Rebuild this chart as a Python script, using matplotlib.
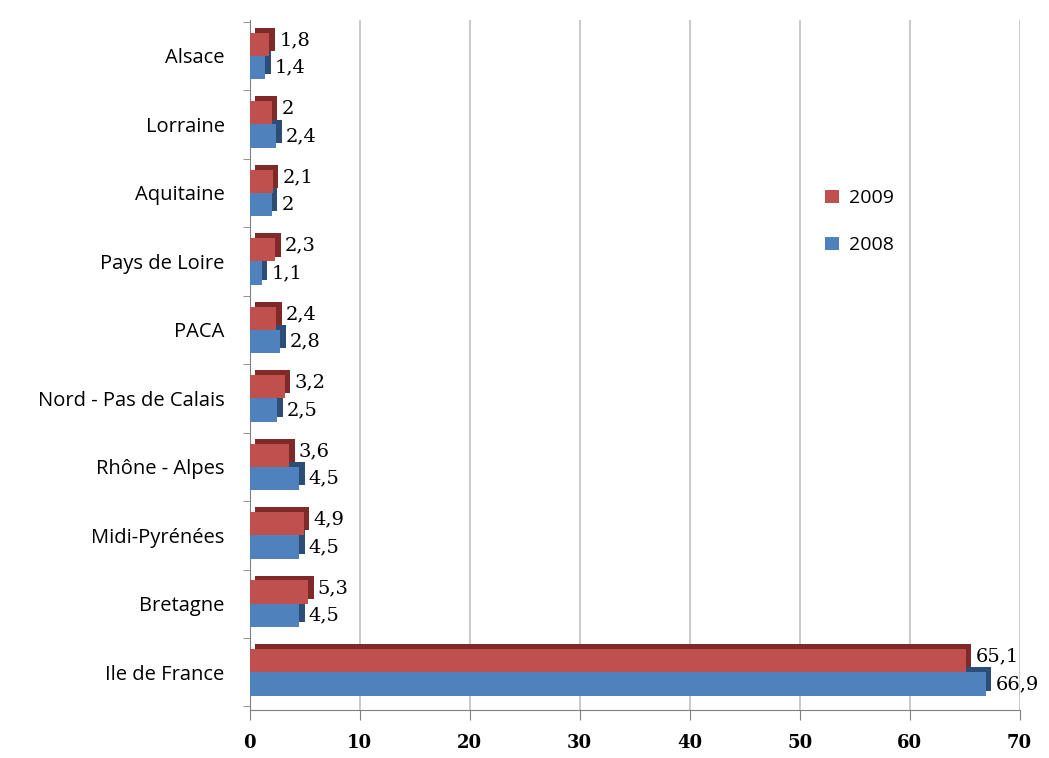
import matplotlib.pyplot as plt
import numpy as np
from matplotlib.transforms import ScaledTranslation

# Données (de bas en haut)
regions = ["Ile de France", "Bretagne", "Midi-Pyrénées", "Rhône - Alpes",
           "Nord - Pas de Calais", "PACA", "Pays de Loire", "Aquitaine",
           "Lorraine", "Alsace"]
v2009 = [65.1, 5.3, 4.9, 3.6, 3.2, 2.4, 2.3, 2.1, 2, 1.8]
v2008 = [66.9, 4.5, 4.5, 4.5, 2.5, 2.8, 1.1, 2, 2.4, 1.4]
xticks = [0, 10, 20, 30, 40, 50, 60, 70]

red, red_dark = "#c0504d", "#7f2a28"
blue, blue_dark = "#4f81bd", "#2c4d75"

fig = plt.figure(figsize=(10.49, 7.58), dpi=100)
ax = fig.add_axes([0.238, 0.063, 0.734, 0.911])

y = np.arange(len(regions))
h = 0.34
depth = ScaledTranslation(4 / 72, 3.5 / 72, fig.dpi_scale_trans)

# faces arrière (effet 3D)
ax.barh(y + h / 2, v2009, height=h, color=red_dark, transform=ax.transData + depth, zorder=2)
ax.barh(y - h / 2, v2008, height=h, color=blue_dark, transform=ax.transData + depth, zorder=2)
ax.barh(y + h / 2, v2009, height=h, color=red, zorder=3, label="2009")
ax.barh(y - h / 2, v2008, height=h, color=blue, zorder=3, label="2008")

lab = dict(fontsize=14, family="DejaVu Serif", va="center", zorder=4)
for yi, a, b in zip(y, v2009, v2008):
    ax.annotate(f"{a:g}".replace(".", ","), (a, yi + h / 2), xytext=(7, 3),
                textcoords="offset points", **lab)
    ax.annotate(f"{b:g}".replace(".", ","), (b, yi - h / 2), xytext=(7, 0),
                textcoords="offset points", **lab)

ax.set_xlim(0, 70)
ax.set_ylim(-0.555, len(regions) - 0.47)
ax.set_xticks(xticks)
ax.set_xticklabels([str(t) for t in xticks], family="DejaVu Serif",
                   fontsize=13, fontweight="bold")
ax.set_yticks(y)
ax.set_yticklabels(regions, family="Open Sans", fontsize=14.5)
ax.set_yticks(np.arange(-0.5, len(regions), 1), minor=True)
ax.tick_params(axis="y", which="major", length=0, pad=18)
ax.tick_params(axis="y", which="minor", length=5, color="#808080")
ax.tick_params(axis="x", length=7, color="#808080", direction="out", pad=10)

ax.grid(axis="x", color="#c0c0c0", lw=1.2, zorder=0)
for s in ["top", "right"]:
    ax.spines[s].set_visible(False)
ax.spines["left"].set_color("#808080")
ax.spines["bottom"].set_color("#808080")

handles, labels = ax.get_legend_handles_labels()
ax.legend(handles, labels, loc="upper left", bbox_to_anchor=(0.725, 0.78),
          frameon=False, prop={"family": "Open Sans", "size": 14},
          handlelength=0.7, handleheight=0.7, labelspacing=1.5, handletextpad=0.5)

plt.savefig("out.png", dpi=100)
